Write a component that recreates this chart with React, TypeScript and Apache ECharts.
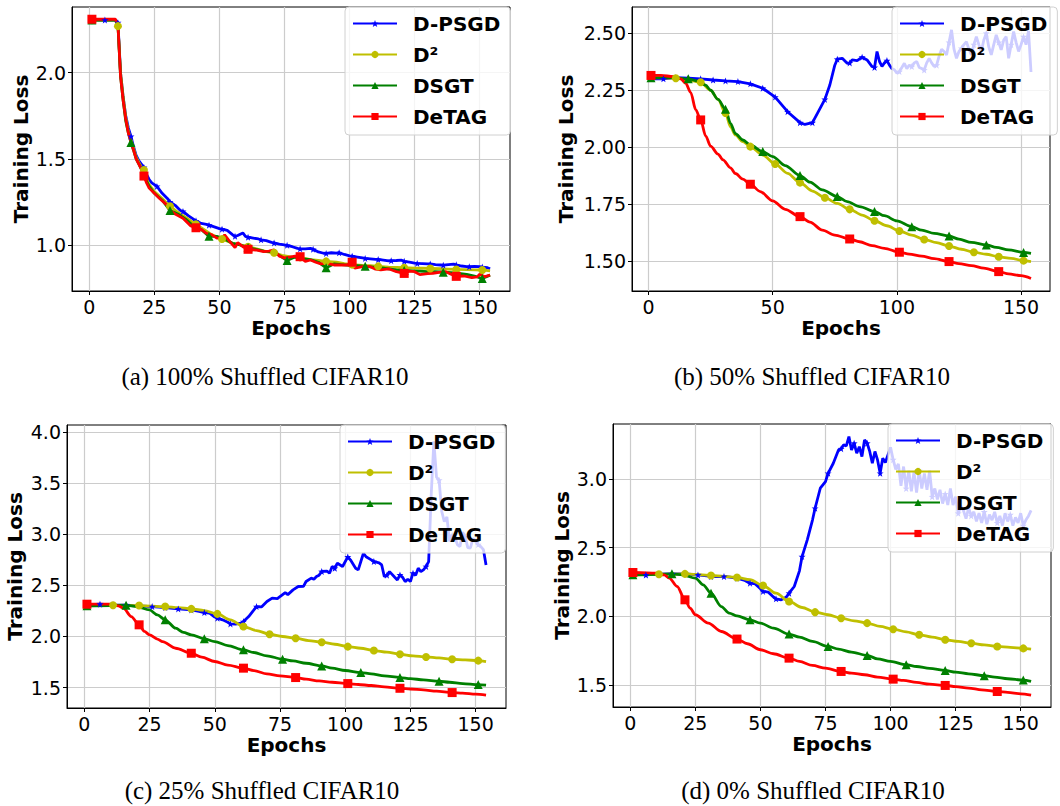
import React, { useEffect, useRef } from "react";
import * as echarts from "echarts";

// ---------- DATA ----------
const SERIES_NAMES = ["D-PSGD", "D²", "DSGT", "DeTAG"];
const CAPTIONS = [
  "(a) 100% Shuffled CIFAR10",
  "(b) 50% Shuffled CIFAR10",
  "(c) 25% Shuffled CIFAR10",
  "(d) 0% Shuffled CIFAR10",
];
const X_TICKS_FINE = [0, 25, 50, 75, 100, 125, 150];
const X_TICKS_COARSE = [0, 50, 100, 150];
const Y_TICKS_A = [1.0, 1.5, 2.0];
const Y_TICKS_B = [1.5, 1.75, 2.0, 2.25, 2.5];
const Y_TICKS_C = [1.5, 2.0, 2.5, 3.0, 3.5, 4.0];
const Y_TICKS_D = [1.5, 2.0, 2.5, 3.0];

type P = [number, number];

// (a) 100% shuffled
const A_DPSGD: P[] = [[1,2.305],[6,2.305],[10,2.305],[11,2.29],[12,2.0],[13,1.86],[14,1.75],[15,1.68],[16,1.63],[17,1.57],[18,1.52],[19,1.49],[20,1.47],[21,1.45],[22,1.41],[23,1.38],[24,1.36],[26,1.34],[28,1.30],[30,1.27],[31,1.25],[33,1.23],[35,1.20],[36,1.195],[38,1.17],[40,1.15],[41,1.14],[43,1.125],[45,1.12],[46,1.115],[48,1.105],[50,1.095],[51,1.092],[53,1.085],[55,1.06],[56,1.05],[57,1.055],[59,1.07],[60,1.05],[61,1.045],[63,1.04],[65,1.035],[66,1.03],[68,1.025],[70,1.015],[71,1.012],[73,1.005],[75,1.0],[76,0.998],[78,0.99],[80,0.98],[81,0.978],[83,0.977],[85,0.98],[86,0.975],[88,0.96],[90,0.952],[91,0.951],[93,0.955],[95,0.953],[96,0.955],[98,0.945],[100,0.937],[101,0.935],[103,0.93],[105,0.925],[106,0.922],[108,0.92],[110,0.916],[111,0.916],[113,0.912],[115,0.908],[116,0.909],[118,0.91],[120,0.912],[121,0.905],[123,0.9],[125,0.895],[126,0.893],[128,0.892],[130,0.89],[131,0.89],[133,0.886],[135,0.884],[136,0.883],[138,0.886],[140,0.889],[141,0.885],[143,0.878],[145,0.875],[146,0.874],[148,0.876],[150,0.874],[151,0.872],[153,0.868],[154,0.862]];
const A_D2: P[] = [[1,2.305],[10,2.305],[11,2.27],[12,2.0],[13,1.86],[14,1.74],[15,1.66],[16,1.61],[17,1.56],[18,1.51],[19,1.48],[20,1.45],[21,1.435],[22,1.38],[23,1.35],[25,1.31],[28,1.27],[31,1.225],[34,1.19],[37,1.16],[41,1.12],[44,1.09],[47,1.06],[51,1.035],[55,1.01],[58,1.0],[61,0.99],[65,0.975],[68,0.962],[71,0.955],[74,0.94],[78,0.93],[81,0.928],[85,0.915],[88,0.91],[91,0.905],[95,0.9],[98,0.892],[101,0.886],[105,0.882],[108,0.88],[111,0.876],[115,0.872],[118,0.87],[121,0.868],[125,0.866],[128,0.865],[131,0.864],[135,0.862],[138,0.86],[141,0.858],[145,0.857],[148,0.856],[151,0.855],[154,0.85]];
const A_DSGT: P[] = [[1,2.305],[10,2.305],[11,2.28],[12,1.98],[13,1.84],[14,1.72],[15,1.65],[16,1.595],[17,1.55],[18,1.50],[19,1.47],[20,1.44],[21,1.41],[22,1.37],[23,1.34],[25,1.30],[28,1.26],[31,1.20],[34,1.18],[37,1.15],[40,1.11],[43,1.09],[46,1.05],[49,1.05],[52,1.035],[55,1.01],[58,1.0],[61,0.985],[64,0.975],[67,0.965],[70,0.96],[73,0.94],[76,0.91],[79,0.93],[82,0.92],[85,0.915],[88,0.9],[91,0.868],[94,0.89],[97,0.886],[100,0.882],[103,0.88],[106,0.876],[109,0.872],[112,0.868],[115,0.862],[118,0.856],[121,0.852],[124,0.85],[127,0.848],[130,0.846],[133,0.845],[136,0.842],[139,0.84],[142,0.835],[145,0.83],[148,0.82],[151,0.805],[154,0.825]];
const A_DETAG: P[] = [[1,2.31],[5,2.31],[10,2.31],[11,2.28],[12,1.98],[13,1.84],[14,1.73],[15,1.65],[16,1.60],[17,1.55],[18,1.50],[19,1.47],[20,1.44],[21,1.40],[22,1.36],[23,1.33],[25,1.30],[27,1.27],[30,1.23],[31,1.20],[33,1.18],[36,1.155],[39,1.11],[41,1.10],[43,1.09],[45,1.068],[47,1.06],[49,1.04],[51,1.04],[52,1.058],[54,1.02],[56,0.985],[57,1.014],[59,0.99],[61,0.975],[64,0.971],[67,0.961],[69,0.965],[71,0.971],[73,0.935],[75,0.925],[77,0.93],[79,0.935],[81,0.932],[83,0.905],[85,0.913],[87,0.9],[89,0.89],[91,0.894],[94,0.884],[97,0.884],[99,0.884],[101,0.9],[102,0.866],[105,0.874],[108,0.874],[110,0.86],[112,0.855],[115,0.862],[118,0.845],[121,0.835],[123,0.848],[125,0.845],[127,0.828],[130,0.834],[132,0.836],[135,0.842],[137,0.845],[139,0.83],[141,0.818],[144,0.82],[147,0.81],[149,0.815],[150,0.83],[152,0.816],[154,0.826]];

// (b) 50% shuffled
const B_DPSGD: P[] = [[1,2.30],[6,2.30],[11,2.305],[16,2.303],[21,2.30],[26,2.295],[31,2.291],[36,2.288],[41,2.278],[46,2.259],[51,2.22],[56,2.156],[61,2.108],[63,2.10],[66,2.108],[68,2.149],[71,2.21],[73,2.273],[75,2.36],[76,2.386],[78,2.39],[80,2.368],[81,2.37],[82,2.383],[84,2.38],[86,2.395],[88,2.383],[90,2.354],[91,2.35],[92,2.42],[93,2.376],[94,2.355],[95,2.37],[96,2.38],[97,2.36],[98,2.345],[99,2.34],[100,2.325],[101,2.332],[102,2.35],[103,2.368],[104,2.345],[105,2.36],[106,2.354],[107,2.37],[108,2.376],[109,2.35],[110,2.345],[111,2.339],[112,2.37],[113,2.39],[114,2.37],[115,2.354],[116,2.36],[117,2.40],[118,2.43],[119,2.42],[120,2.405],[121,2.46],[122,2.515],[123,2.43],[124,2.39],[125,2.42],[126,2.434],[127,2.45],[128,2.463],[129,2.43],[130,2.405],[131,2.45],[132,2.485],[133,2.45],[134,2.42],[135,2.47],[136,2.50],[137,2.44],[138,2.405],[139,2.45],[140,2.493],[141,2.46],[142,2.427],[143,2.47],[144,2.485],[145,2.39],[146,2.45],[147,2.507],[148,2.46],[149,2.42],[150,2.45],[151,2.485],[152,2.45],[153,2.51],[154,2.33]];
const B_D2: P[] = [[1,2.305],[11,2.303],[16,2.295],[21,2.285],[25,2.25],[28,2.21],[31,2.15],[33,2.09],[35,2.054],[38,2.025],[41,2.003],[46,1.966],[51,1.927],[56,1.886],[61,1.845],[66,1.808],[71,1.779],[76,1.754],[81,1.728],[86,1.703],[91,1.678],[96,1.656],[101,1.633],[106,1.615],[111,1.596],[116,1.582],[121,1.567],[126,1.553],[131,1.54],[136,1.531],[141,1.52],[146,1.513],[151,1.503],[154,1.499]];
const B_DSGT: P[] = [[1,2.305],[10,2.305],[16,2.30],[20,2.29],[23,2.272],[25,2.25],[28,2.21],[31,2.167],[33,2.105],[35,2.06],[38,2.032],[41,2.01],[46,1.981],[50,1.959],[55,1.92],[61,1.876],[65,1.847],[70,1.813],[76,1.784],[80,1.762],[85,1.74],[91,1.718],[95,1.70],[100,1.677],[106,1.652],[110,1.637],[115,1.623],[121,1.611],[125,1.597],[130,1.583],[136,1.572],[140,1.561],[145,1.55],[151,1.539],[154,1.535]];
const B_DETAG: P[] = [[1,2.315],[5,2.315],[10,2.31],[13,2.30],[15,2.28],[17,2.24],[19,2.165],[21,2.12],[23,2.05],[25,2.005],[28,1.97],[30,1.945],[33,1.91],[35,1.885],[38,1.86],[41,1.838],[45,1.806],[50,1.765],[55,1.728],[61,1.696],[65,1.672],[70,1.637],[75,1.615],[81,1.598],[85,1.586],[90,1.569],[95,1.557],[101,1.54],[105,1.532],[110,1.523],[115,1.512],[121,1.499],[125,1.49],[130,1.481],[135,1.47],[141,1.455],[145,1.445],[150,1.437],[154,1.425]];

// (c) 25% shuffled
const C_DPSGD: P[] = [[1,2.31],[6,2.316],[11,2.31],[16,2.306],[21,2.30],[26,2.293],[31,2.283],[36,2.27],[41,2.26],[44,2.245],[46,2.234],[48,2.228],[50,2.19],[51,2.179],[53,2.163],[55,2.14],[56,2.123],[58,2.12],[60,2.13],[61,2.146],[63,2.195],[65,2.26],[66,2.293],[68,2.29],[70,2.342],[72,2.375],[74,2.37],[75,2.391],[77,2.43],[78,2.41],[80,2.456],[82,2.489],[84,2.49],[85,2.538],[87,2.571],[88,2.56],[89,2.587],[90,2.6],[91,2.636],[93,2.64],[94,2.62],[95,2.685],[96,2.668],[97,2.717],[99,2.685],[101,2.78],[102,2.75],[104,2.668],[105,2.652],[107,2.815],[108,2.78],[110,2.75],[111,2.734],[113,2.72],[114,2.70],[115,2.586],[116,2.60],[117,2.635],[119,2.58],[120,2.553],[121,2.603],[122,2.58],[123,2.537],[124,2.56],[125,2.538],[126,2.62],[127,2.6],[128,2.668],[129,2.636],[130,2.652],[131,2.685],[132,2.733],[133,3.4],[134,3.91],[135,3.56],[136,3.53],[137,3.226],[138,3.124],[139,3.17],[140,2.93],[141,2.99],[142,2.976],[143,2.90],[144,2.88],[145,3.02],[146,2.976],[147,2.87],[148,2.866],[149,2.96],[150,2.93],[151,2.90],[152,2.88],[153,2.85],[154,2.70]];
const C_D2: P[] = [[1,2.30],[11,2.306],[21,2.303],[31,2.293],[36,2.283],[41,2.27],[46,2.254],[51,2.221],[56,2.163],[61,2.097],[66,2.058],[71,2.022],[76,2.0],[81,1.983],[86,1.96],[91,1.944],[96,1.924],[101,1.901],[106,1.885],[111,1.862],[116,1.846],[121,1.826],[126,1.81],[131,1.80],[136,1.79],[141,1.777],[146,1.771],[151,1.764],[154,1.755]];
const C_DSGT: P[] = [[1,2.30],[10,2.303],[16,2.306],[20,2.293],[25,2.26],[28,2.211],[31,2.163],[35,2.081],[38,2.04],[41,2.016],[46,1.977],[50,1.95],[55,1.911],[61,1.869],[65,1.843],[70,1.81],[76,1.778],[80,1.761],[85,1.738],[91,1.712],[95,1.69],[100,1.667],[106,1.647],[110,1.634],[115,1.614],[121,1.598],[125,1.588],[130,1.575],[136,1.562],[140,1.552],[145,1.539],[151,1.529],[154,1.523]];
const C_DETAG: P[] = [[1,2.316],[10,2.316],[13,2.30],[15,2.277],[18,2.195],[21,2.114],[23,2.05],[25,2.016],[28,1.975],[30,1.95],[35,1.885],[41,1.836],[45,1.797],[50,1.755],[55,1.72],[61,1.69],[65,1.666],[70,1.634],[75,1.614],[81,1.598],[85,1.582],[90,1.565],[95,1.552],[101,1.539],[105,1.53],[110,1.52],[115,1.507],[121,1.493],[125,1.486],[130,1.477],[135,1.465],[141,1.451],[145,1.445],[150,1.435],[154,1.425]];

// (d) 0% shuffled
const D_DPSGD: P[] = [[1,2.306],[6,2.30],[11,2.306],[16,2.308],[21,2.308],[26,2.30],[31,2.289],[36,2.289],[41,2.277],[44,2.26],[46,2.24],[48,2.235],[50,2.2],[51,2.18],[53,2.175],[55,2.14],[56,2.126],[58,2.119],[60,2.14],[61,2.167],[63,2.216],[65,2.33],[66,2.434],[68,2.556],[70,2.70],[71,2.786],[73,2.932],[75,2.98],[76,3.041],[78,3.114],[80,3.211],[81,3.22],[82,3.248],[83,3.24],[84,3.308],[85,3.211],[86,3.26],[87,3.187],[88,3.235],[89,3.163],[90,3.284],[91,3.26],[92,3.2],[93,3.114],[94,3.2],[95,3.138],[96,3.041],[97,3.15],[98,3.12],[99,3.175],[100,3.23],[101,3.14],[102,3.07],[103,3.11],[104,2.95],[105,3.09],[106,2.93],[107,3.06],[108,2.91],[109,3.05],[110,2.90],[111,3.06],[112,2.93],[113,3.04],[114,2.92],[115,3.06],[116,2.87],[117,2.93],[118,2.85],[119,2.92],[120,2.82],[121,2.89],[122,2.81],[123,2.93],[124,2.81],[125,2.87],[126,2.75],[127,2.80],[128,2.77],[129,2.71],[130,2.79],[131,2.73],[132,2.76],[133,2.69],[134,2.75],[135,2.68],[136,2.76],[137,2.67],[138,2.74],[139,2.70],[140,2.76],[141,2.68],[142,2.73],[143,2.66],[144,2.75],[145,2.69],[146,2.74],[147,2.66],[148,2.72],[149,2.68],[150,2.75],[151,2.66],[152,2.70],[153,2.73],[154,2.77]];
const D_D2: P[] = [[1,2.30],[11,2.305],[21,2.308],[31,2.296],[36,2.29],[41,2.282],[46,2.265],[51,2.223],[56,2.167],[61,2.107],[66,2.063],[71,2.029],[76,2.01],[81,1.985],[86,1.966],[91,1.949],[96,1.925],[101,1.905],[106,1.886],[111,1.864],[116,1.847],[121,1.828],[126,1.816],[131,1.803],[136,1.791],[141,1.779],[146,1.772],[151,1.765],[154,1.76]];
const D_DSGT: P[] = [[1,2.301],[10,2.305],[16,2.308],[20,2.301],[25,2.277],[28,2.228],[31,2.167],[35,2.07],[38,2.022],[41,2.002],[46,1.973],[50,1.949],[55,1.913],[61,1.869],[65,1.847],[70,1.816],[76,1.779],[80,1.76],[85,1.738],[91,1.714],[95,1.689],[100,1.67],[106,1.646],[110,1.633],[115,1.619],[121,1.604],[125,1.592],[130,1.58],[136,1.566],[140,1.556],[145,1.544],[151,1.534],[154,1.524]];
const D_DETAG: P[] = [[1,2.318],[10,2.313],[13,2.30],[15,2.277],[18,2.216],[21,2.119],[23,2.058],[25,2.01],[30,1.949],[35,1.888],[41,1.833],[45,1.799],[50,1.755],[55,1.726],[61,1.694],[65,1.67],[70,1.641],[75,1.621],[81,1.597],[85,1.585],[90,1.573],[95,1.556],[101,1.541],[105,1.532],[110,1.517],[115,1.505],[121,1.495],[125,1.487],[130,1.476],[135,1.463],[141,1.451],[145,1.444],[150,1.434],[154,1.425]];

// ---------- STYLE / LAYOUT ----------
const STAR = "path://M0,-10L2.35,-3.24L9.51,-3.09L3.8,1.24L5.88,8.09L0,4L-5.88,8.09L-3.8,1.24L-9.51,-3.09L-2.35,-3.24Z";
const STYLES = [
  { color: "#0000ff", symbol: STAR, size: 7, every: 5 },
  { color: "#bfbf00", symbol: "circle", size: 8, every: 10 },
  { color: "#008000", symbol: "triangle", size: 9, every: 15 },
  { color: "#ff0000", symbol: "rect", size: 9, every: 20 },
];

const PANELS = [
  { data: [A_DPSGD, A_D2, A_DSGT, A_DETAG], grid: { left: 72, top: 7, width: 438, height: 284 },
    x: [-6.65, 161.65], xt: X_TICKS_FINE, y: [0.733, 2.381], yt: Y_TICKS_A, dec: 1, yGap: 41, smooth: false,
    legend: { left: 345, top: 7 }, caption: { x: 265, y: 376 } },
  { data: [B_DPSGD, B_D2, B_DSGT, B_DETAG], grid: { left: 632, top: 7, width: 418, height: 284 },
    x: [-6.65, 161.65], xt: X_TICKS_COARSE, y: [1.37, 2.615], yt: Y_TICKS_B, dec: 2, yGap: 56, smooth: true,
    legend: { left: 892, top: 7 }, caption: { x: 812, y: 376 } },
  { data: [C_DPSGD, C_D2, C_DSGT, C_DETAG], grid: { left: 67, top: 425, width: 439, height: 283 },
    x: [-6.65, 161.65], xt: X_TICKS_FINE, y: [1.30, 4.07], yt: Y_TICKS_C, dec: 1, yGap: 42, smooth: true,
    legend: { left: 340, top: 425 }, caption: { x: 262, y: 790 } },
  { data: [D_DPSGD, D_D2, D_DSGT, D_DETAG], grid: { left: 613, top: 424, width: 438, height: 283 },
    x: [-6.65, 161.65], xt: X_TICKS_FINE, y: [1.338, 3.40], yt: Y_TICKS_D, dec: 1, yGap: 41, smooth: true,
    legend: { left: 888, top: 424 }, caption: { x: 813, y: 790 } },
];

const FONT = "'DejaVu Sans', sans-serif";

function buildOption() {
  const grid: any[] = [];
  const xAxis: any[] = [];
  const yAxis: any[] = [];
  const series: any[] = [];
  const legend: any[] = [];
  const graphic: any[] = [];

  PANELS.forEach((p, pi) => {
    grid.push({ ...p.grid, show: true, borderColor: "#000", borderWidth: 1, backgroundColor: "transparent" });
    xAxis.push({
      type: "value", gridIndex: pi, min: p.x[0], max: p.x[1],
      name: "Epochs", nameLocation: "middle", nameGap: 27,
      nameTextStyle: { fontFamily: FONT, fontWeight: "bold", fontSize: 20, color: "#000" },
      axisLine: { show: true, onZero: false, lineStyle: { color: "#000", width: 1 } },
      axisTick: { show: true, length: 4, customValues: p.xt, lineStyle: { color: "#000" } },
      axisLabel: { customValues: p.xt, fontFamily: FONT, fontSize: 19, color: "#000", margin: 6 },
      splitLine: { show: true, lineStyle: { color: "#cccccc", width: 1.2 } },
    });
    yAxis.push({
      type: "value", gridIndex: pi, min: p.y[0], max: p.y[1],
      name: "Training Loss", nameLocation: "middle", nameGap: p.yGap,
      nameTextStyle: { fontFamily: FONT, fontWeight: "bold", fontSize: 20, color: "#000" },
      axisLine: { show: true, onZero: false, lineStyle: { color: "#000", width: 1 } },
      axisTick: { show: true, length: 4, customValues: p.yt, lineStyle: { color: "#000" } },
      axisLabel: { customValues: p.yt, fontFamily: FONT, fontSize: 19, color: "#000", margin: 6,
        formatter: (v: number) => v.toFixed(p.dec) },
      splitLine: { show: true, lineStyle: { color: "#cccccc", width: 1.2 } },
    });
    p.data.forEach((arr, si) => {
      const st = STYLES[si];
      const noisy = si === 0 || !p.smooth;
      series.push({
        type: "line", name: SERIES_NAMES[si], xAxisIndex: pi, yAxisIndex: pi,
        data: arr.map(([x, y]) => ((x - 1) % st.every === 0 ? [x, y] : { value: [x, y], symbol: "none" })),
        symbol: st.symbol, symbolSize: st.size, showSymbol: true, showAllSymbol: true,
        smooth: noisy ? false : 0.3, smoothMonotone: "x",
        lineStyle: { color: st.color, width: 2.8 },
        itemStyle: { color: st.color },
        emphasis: { disabled: true },
      });
    });
    legend.push({
      left: p.legend.left, top: p.legend.top, orient: "vertical",
      data: SERIES_NAMES, selectedMode: false,
      itemWidth: 44, itemHeight: 9, itemGap: 10,
      padding: [6, 10, 8, 7],
      backgroundColor: "rgba(255,255,255,0.8)", borderColor: "#d0d0d0", borderWidth: 1, borderRadius: 4,
      textStyle: { fontFamily: FONT, fontWeight: "bold", fontSize: 20, color: "#000", lineHeight: 21, padding: [0, 0, 0, 11] },
    });
    graphic.push({
      type: "text", x: p.caption.x, y: p.caption.y,
      style: { text: CAPTIONS[pi], fontFamily: "'Liberation Serif', serif", fontSize: 25, fill: "#000",
        align: "center", verticalAlign: "middle" },
    });
  });

  return { animation: false, backgroundColor: "#fff", grid, xAxis, yAxis, series, legend, graphic };
}

export default function App() {
  const ref = useRef<HTMLDivElement>(null);
  useEffect(() => {
    if (!ref.current) return;
    const chart = echarts.init(ref.current, undefined, { renderer: "svg" });
    chart.setOption(buildOption() as any);
    return () => chart.dispose();
  }, []);
  return <div ref={ref} style={{ position: "absolute", left: 0, top: 0, width: 1060, height: 806 }} />;
}
